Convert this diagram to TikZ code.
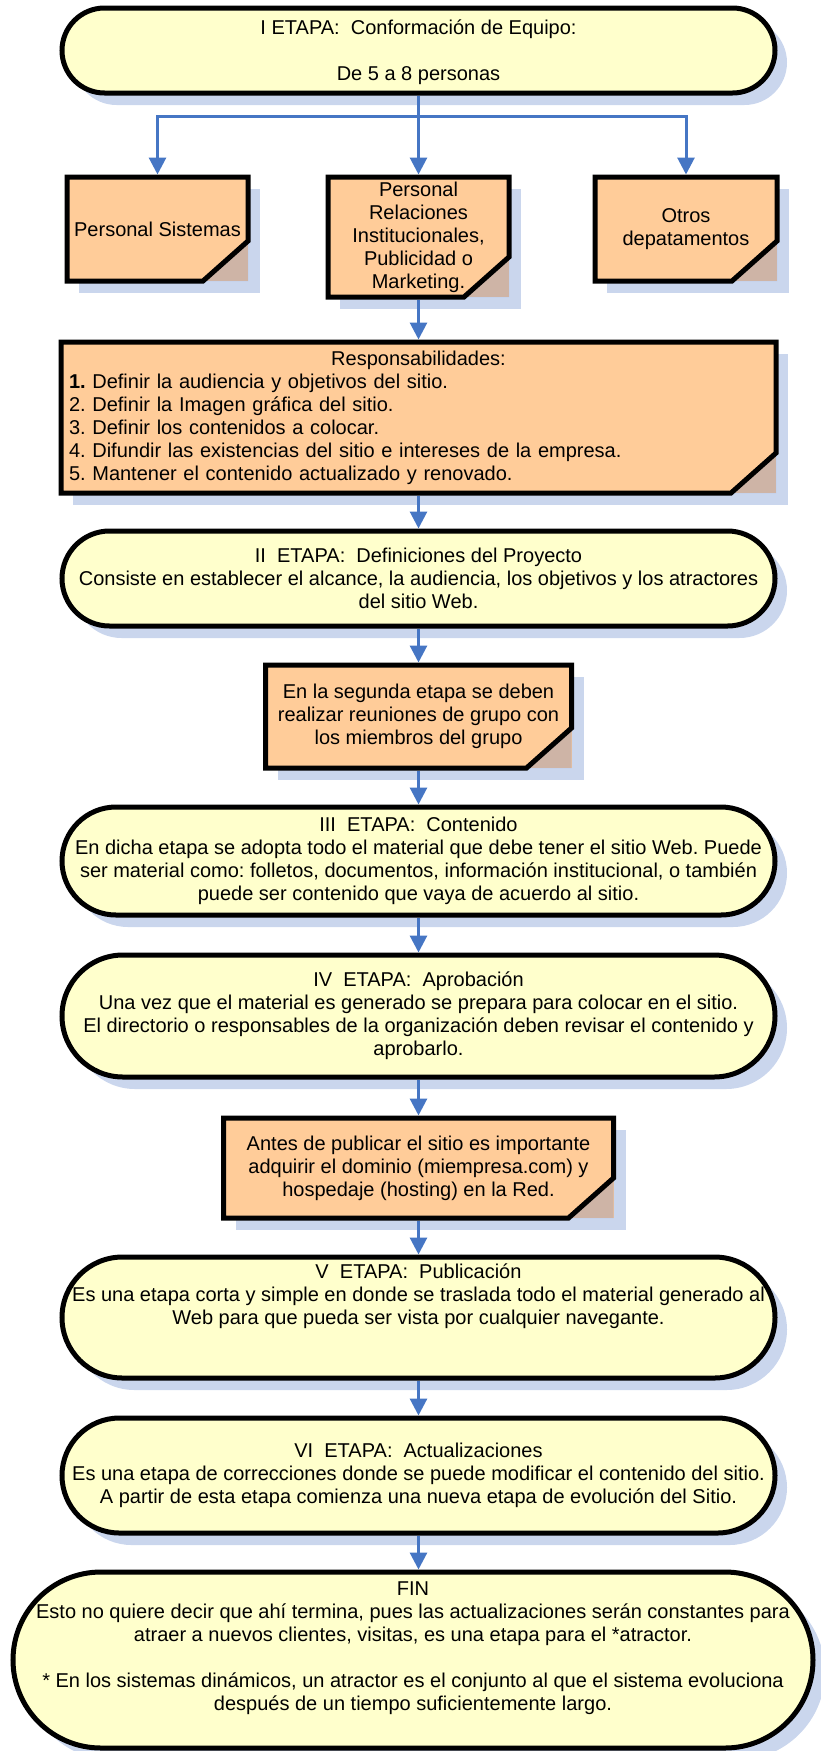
\documentclass[tikz,border=0pt]{standalone}
\usepackage{fontspec}
\setmainfont{Liberation Sans}
\usetikzlibrary{shapes.misc,shadows,arrows.meta,backgrounds,calc}
\definecolor{stfill}{RGB}{255,255,204}
\definecolor{bxfill}{RGB}{255,204,153}
\definecolor{shfill}{RGB}{202,214,237}
\definecolor{foldblue}{RGB}{105,130,195}
\definecolor{arrblue}{RGB}{70,118,196}
\newcommand\fsz{\fontsize{20pt}{23pt}\selectfont\frenchspacing}
\newcommand\FoldShadow[1]{%
  \fill[shfill] ([shift={(12,-12)}]#1.north west) rectangle ([shift={(12,-12)}]#1.south east);}
\newcommand\FoldBody[1]{%
  \fill[bxfill] (#1.north west) rectangle (#1.south east);
  \fill[foldblue, opacity=0.32] ([yshift=40pt]#1.south east) -- (#1.south east) -- ([xshift=-45pt]#1.south east) -- cycle;
  \draw[boxline] (#1.north west) -- (#1.north east) -- ([yshift=40pt]#1.south east) -- ([xshift=-45pt]#1.south east) -- (#1.south west) -- cycle;}
\begin{document}
\begin{tikzpicture}[x=1pt,y=1pt,
  stage/.style={rounded rectangle, draw=black, line width=5pt, fill=stfill, inner sep=0pt,
    drop shadow={shadow xshift=12pt, shadow yshift=-12pt, fill=shfill, opacity=1}},
  txt/.style={font=\fsz, align=center, inner sep=0pt},
  note/.style={font=\fsz, align=center, inner sep=0pt, outer sep=0pt},
  boxline/.style={draw=black, line width=5pt, line join=miter},
  arr/.style={draw=arrblue, line width=3pt, -{Triangle[width=17pt,length=17pt]}},
  tobox/.style={shorten >=2.5pt},
  frombox/.style={shorten <=2.5pt},
]
\useasboundingbox (0,0) rectangle (821,-1751);

% ---- stages (terminators)
\node[stage, minimum width=713, minimum height=85] (s1) at (418.5,-50.5) {};
\node[txt] (t1) at ([yshift=-2pt]s1.center) {I ETAPA:\ \ Conformación de Equipo:\\[23pt]De 5 a 8 personas};

\node[stage, minimum width=713, minimum height=95] (s2) at (418.5,-578.5) {};
\node[txt] (t2) at (s2.center) {II\ \ ETAPA:\ \ Definiciones del Proyecto\\Consiste en establecer el alcance, la audiencia, los objetivos y los atractores\\del sitio Web.};

\node[stage, minimum width=713, minimum height=108] (s3) at (418.5,-861) {};
\node[txt] (t3) at (s3.center) {III\ \ ETAPA:\ \ Contenido\\En dicha etapa se adopta todo el material que debe tener el sitio Web. Puede\\ser material como: folletos, documentos, información institucional, o también\\puede ser contenido que vaya de acuerdo al sitio.};

\node[stage, minimum width=713, minimum height=122] (s4) at (418.5,-1016) {};
\node[txt] (t4) at (s4.center) {IV\ \ ETAPA:\ \ Aprobación\\Una vez que el material es generado se prepara para colocar en el sitio.\\El directorio o responsables de la organización deben revisar el contenido y\\aprobarlo.};

\node[stage, minimum width=713, minimum height=121] (s5) at (418.5,-1317.5) {};
\node[txt] (t5) at ([yshift=21pt]s5.center) {V\ \ ETAPA:\ \ Publicación\\Es una etapa corta y simple en donde se traslada todo el material generado al\\Web para que pueda ser vista por cualquier navegante.};

\node[stage, minimum width=713, minimum height=115] (s6) at (418.5,-1475.5) {};
\node[txt] (t6) at (s6.center) {VI\ \ ETAPA:\ \ Actualizaciones\\Es una etapa de correcciones donde se puede modificar el contenido del sitio.\\A partir de esta etapa comienza una nueva etapa de evolución del Sitio.};

\node[stage, minimum width=800, minimum height=176] (fin) at (413,-1660) {};
\node[txt] (tfin) at ([yshift=12pt]fin.center) {FIN\\Esto no quiere decir que ahí termina, pues las actualizaciones serán constantes para\\atraer a nuevos clientes, visitas, es una etapa para el *atractor.\\[23pt]* En los sistemas dinámicos, un atractor es el conjunto al que el sistema evoluciona\\después de un tiempo suficientemente largo.};

% ---- notes (folded-corner boxes)
\node[note, minimum width=181, minimum height=104] (A) at (157.5,-229) {Personal Sistemas};
\node[note, minimum width=181, minimum height=120] (B) at (418.5,-237) {Personal\\Relaciones\\Institucionales,\\Publicidad o\\Marketing.};
\node[note, minimum width=182, minimum height=104] (C) at (686,-229) {Otros\\depatamentos};
\node[note, align=left, text width=699, inner xsep=8pt, minimum height=151] (R) at (418.5,-417.5)
  {\makebox[\hsize][c]{Responsabilidades:}\\\textbf{1.} Definir la audiencia y objetivos del sitio.\\2. Definir la Imagen gráfica del sitio.\\3. Definir los contenidos a colocar.\\4. Difundir las existencias del sitio e intereses de la empresa.\\5. Mantener el contenido actualizado y renovado.};
\node[note, minimum width=306, minimum height=103] (D) at (418.5,-716.5) {En la segunda etapa se deben\\realizar reuniones de grupo con\\los miembros del grupo};
\node[note, minimum width=390, minimum height=100] (E) at (418.5,-1168) {Antes de publicar el sitio es importante\\adquirir el dominio (miempresa.com) y\\hospedaje (hosting) en la Red.};

\begin{scope}[on background layer]
  \foreach \b in {A,B,C,R,D,E} {\FoldShadow{\b}}
  \foreach \b in {A,B,C,R,D,E} {\FoldBody{\b}}
\end{scope}

% ---- connectors
\coordinate (j) at (418.5,-116);
\draw[arr, tobox] (s1.south) -- (B.north);
\draw[arr, tobox] (j) -| (A.north);
\draw[arr, tobox] (j) -| (C.north);
\draw[arr, tobox, frombox] (B.south) -- (R.north);
\draw[arr, frombox] (R.south) -- (s2.north);
\draw[arr, tobox] (s2.south) -- (D.north);
\draw[arr, frombox] (D.south) -- (s3.north);
\draw[arr] (s3.south) -- (s4.north);
\draw[arr, tobox] (s4.south) -- (E.north);
\draw[arr, frombox] (E.south) -- (s5.north);
\draw[arr] (s5.south) -- (s6.north);
\draw[arr] (s6.south) -- (s6.south |- fin.north);
\end{tikzpicture}
\end{document}
